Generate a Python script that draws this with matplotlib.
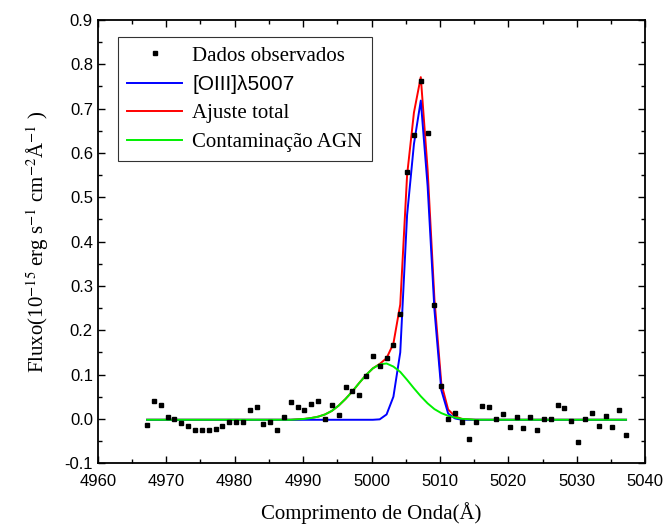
import numpy as np
import matplotlib
matplotlib.use("Agg")
import matplotlib.pyplot as plt

# observed spectrum (Angstrom, 1e-15 erg/s/cm2/A)
wave = [4967.2, 4968.2, 4969.2, 4970.2, 4971.2, 4972.2, 4973.2, 4974.2, 4975.2, 4976.2,
        4977.2, 4978.2, 4979.2, 4980.2, 4981.2, 4982.2, 4983.2, 4984.2, 4985.2, 4986.2,
        4987.2, 4988.2, 4989.2, 4990.2, 4991.2, 4992.2, 4993.2, 4994.2, 4995.2, 4996.2,
        4997.2, 4998.2, 4999.2, 5000.2, 5001.2, 5002.2, 5003.2, 5004.2, 5005.2, 5006.2,
        5007.2, 5008.2, 5009.2, 5010.2, 5011.2, 5012.2, 5013.2, 5014.2, 5015.2, 5016.2,
        5017.2, 5018.2, 5019.2, 5020.2, 5021.2, 5022.2, 5023.2, 5024.2, 5025.2, 5026.2,
        5027.2, 5028.2, 5029.2, 5030.2, 5031.2, 5032.2, 5033.2, 5034.2, 5035.2, 5036.2,
        5037.2]
flux = [-0.014, 0.041, 0.032, 0.004, -0.001, -0.009, -0.017, -0.024, -0.026, -0.026,
        -0.023, -0.015, -0.007, -0.007, -0.007, 0.021, 0.027, -0.012, -0.007, -0.026,
        0.004, 0.038, 0.027, 0.021, 0.033, 0.040, -0.001, 0.031, 0.009, 0.071,
        0.062, 0.053, 0.096, 0.142, 0.119, 0.138, 0.167, 0.236, 0.558, 0.640,
        0.763, 0.645, 0.258, 0.074, -0.001, 0.014, -0.007, -0.045, -0.008, 0.029,
        0.027, 0.000, 0.011, -0.019, 0.004, -0.020, 0.005, -0.026, -0.001, 0.000,
        0.031, 0.024, -0.004, -0.053, 0.000, 0.014, -0.017, 0.006, -0.018, 0.020,
        -0.037]

# fitted components
fit_wave = [4967.2, 4988.2, 4989.2, 4990.2, 4991.2, 4992.2, 4993.2, 4994.2, 4995.2, 4996.2,
            4997.2, 4998.2, 4999.2, 5000.2, 5001.2, 5002.2, 5003.2, 5004.2, 5005.2, 5006.2,
            5007.2, 5008.2, 5009.2, 5010.2, 5011.2, 5012.2, 5013.2, 5014.2, 5015.2, 5037.2]
oiii = [-0.002, -0.002, -0.002, -0.002, -0.002, -0.002, -0.002, -0.002, -0.002, -0.002,
        -0.002, -0.002, -0.002, -0.002, -0.001, 0.010, 0.050, 0.150, 0.460, 0.620,
        0.718, 0.525, 0.245, 0.065, 0.012, 0.001, -0.002, -0.002, -0.002, -0.002]
total = [-0.002, -0.002, -0.001, 0.000, 0.002, 0.005, 0.010, 0.018, 0.030, 0.045,
         0.062, 0.081, 0.099, 0.114, 0.124, 0.137, 0.170, 0.258, 0.550, 0.691,
         0.771, 0.562, 0.269, 0.080, 0.021, 0.006, 0.000, -0.001, -0.002, -0.002]
agn = [-0.002, -0.002, -0.001, 0.000, 0.002, 0.005, 0.010, 0.018, 0.030, 0.045,
       0.062, 0.081, 0.099, 0.114, 0.123, 0.125, 0.118, 0.106, 0.088, 0.069,
       0.051, 0.035, 0.022, 0.013, 0.007, 0.003, 0.000, -0.001, -0.002, -0.002]

plt.rcParams['font.family'] = ['Liberation Serif', 'DejaVu Serif']
plt.rcParams['mathtext.fontset'] = 'stix'

fig = plt.figure(figsize=(6.7, 5.24), dpi=100)
ax = fig.add_axes([0.146, 0.116, 0.817, 0.846])

ax.plot(wave, flux, 's', color='black', markersize=3.5, zorder=5, label='Dados observados')
ax.plot(fit_wave, oiii, color='#0000ff', lw=1.4, zorder=3, label='[OIII]λ5007')
ax.plot(fit_wave, total, color='#ff0000', lw=1.4, zorder=2, label='Ajuste total')
ax.plot(fit_wave, agn, color='#00f000', lw=1.4, zorder=4, label='Contaminação AGN')

ax.set_xlim(4960, 5040)
ax.set_ylim(-0.1, 0.9)
ax.set_xticks(np.arange(4960, 5041, 10))
ax.set_xticks(np.arange(4965, 5040, 10), minor=True)
ax.set_yticks(np.arange(-0.1, 0.91, 0.1))
ax.set_yticks(np.arange(-0.05, 0.9, 0.1), minor=True)
ax.set_yticklabels(['%.1f' % v for v in np.arange(-0.1, 0.91, 0.1)])
ax.tick_params(which='both', direction='in', top=True, right=True, width=1)
ax.tick_params(which='major', length=5, labelsize=12)
ax.tick_params(axis='x', which='major', pad=8)
ax.tick_params(which='minor', length=3)
for lab in ax.get_xticklabels() + ax.get_yticklabels():
    lab.set_family(['Liberation Sans', 'DejaVu Sans'])
for sp in ax.spines.values():
    sp.set_linewidth(1.3)

ax.set_xlabel('Comprimento de Onda(Å)', fontsize=15, labelpad=9)
ax.set_ylabel(r'Fluxo(10$^{-15}$ erg s$^{-1}$ cm$^{-2}$Å$^{-1}$ )', fontsize=15, labelpad=10)

leg = ax.legend(loc='upper left', bbox_to_anchor=(0.037, 0.962), borderaxespad=0,
                fontsize=15, frameon=True, fancybox=False, handlelength=2.6,
                labelspacing=0.45, borderpad=0.45, handletextpad=0.5)
leg.get_frame().set_edgecolor('black')
leg.get_frame().set_linewidth(0.8)
leg.get_texts()[1].set_family(['Liberation Sans', 'DejaVu Sans'])

fig.savefig('out.png', dpi=100)
